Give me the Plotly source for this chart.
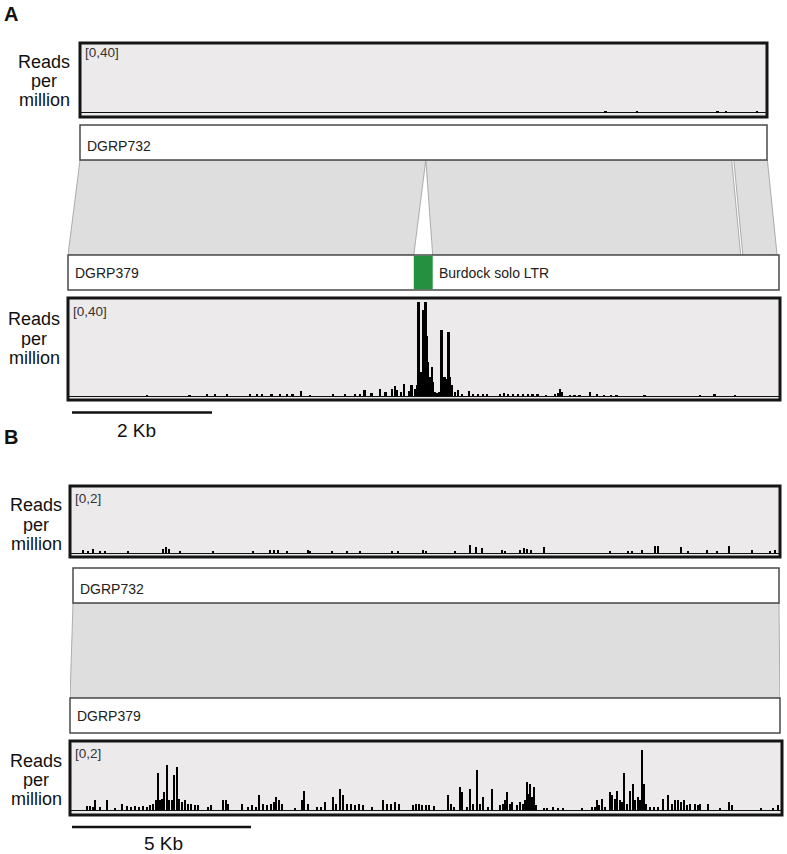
import plotly.graph_objects as go

W, H = 787, 854

# ---------------- DATA ----------------
# Panel A: coverage (reads per million) along DGRP732 (kb)
a732_pos = [7.51, 7.96, 9.11, 9.23, 9.67]
a732_rpm = [0.6, 1.0, 1.2, 1.2, 0.5]

# Panel A: coverage along DGRP379 (kb)
a379_pos = [1.13, 1.74, 1.99, 2.10, 2.27, 2.60, 2.70, 2.77, 2.91, 3.03, 3.13, 3.21, 3.33, 3.46,
            3.79, 3.96, 4.10, 4.17, 4.24, 4.34, 4.46, 4.54, 4.63, 4.67, 4.70, 4.76, 4.80, 4.87,
            4.91, 4.96, 4.99, 5.01, 5.03, 5.04, 5.07, 5.09, 5.11, 5.13, 5.14, 5.17, 5.20, 5.21,
            5.24, 5.27, 5.31, 5.34, 5.37, 5.39, 5.41, 5.44, 5.46, 5.49, 5.53, 5.57, 5.63, 5.73,
            5.79, 5.86, 5.93, 5.99, 6.17, 6.23, 6.29, 6.36, 6.43, 6.50, 6.57, 6.64, 6.71, 6.83,
            6.96, 7.00, 7.03, 7.06, 7.17, 7.24, 7.31, 7.46, 7.56, 7.66, 7.76, 7.84, 8.24, 9.03,
            9.24, 9.53]
a379_rpm = [0.4, 0.4, 0.5, 0.5, 0.5, 0.6, 0.8, 0.8, 0.7, 1.0, 0.9, 0.8, 2.0, 0.4,
            0.6, 0.8, 1.0, 0.8, 2.5, 1.2, 2.8, 1.5, 3.0, 4.0, 2.5, 1.5, 5.0, 2.0,
            4.5, 3.0, 4.5, 39.0, 8.0, 10.0, 36.0, 35.0, 39.0, 25.0, 14.0, 8.0, 12.0, 6.0,
            1.5, 1.2, 1.5, 27.5, 8.0, 8.0, 7.0, 26.5, 8.0, 4.5, 1.5, 2.5, 1.0, 2.0,
            0.8, 1.0, 0.8, 0.7, 0.8, 1.2, 1.0, 0.6, 0.7, 0.5, 1.0, 0.8, 0.6, 0.3,
            0.8, 1.2, 3.0, 1.5, 0.4, 0.4, 0.4, 1.8, 0.5, 0.4, 0.3, 0.3, 0.2, 0.2,
            0.8, 0.3]

# Panel B: coverage along DGRP732 (kb)
b732_pos = [0.36, 0.50, 0.64, 0.84, 0.98, 1.62, 2.60, 2.68, 2.77, 3.07, 3.99, 5.11, 5.59, 5.70,
            5.81, 6.06, 6.65, 6.70, 7.32, 7.74, 8.10, 9.00, 9.16, 9.86, 9.94, 10.75, 11.17,
            11.34, 11.51, 12.07, 12.15, 12.57, 12.68, 12.77, 12.88, 13.24, 15.08, 15.59, 15.70,
            15.98, 16.34, 16.42, 17.07, 17.26, 17.79, 18.07, 18.41, 19.05, 19.55, 19.69]
b732_rpm = [0.08, 0.06, 0.12, 0.06, 0.06, 0.06, 0.12, 0.20, 0.12, 0.06, 0.05, 0.05, 0.08, 0.10,
            0.08, 0.05, 0.08, 0.06, 0.05, 0.05, 0.05, 0.06, 0.05, 0.08, 0.06, 0.05, 0.25,
            0.18, 0.15, 0.08, 0.06, 0.10, 0.15, 0.12, 0.08, 0.18, 0.05, 0.05, 0.05,
            0.08, 0.22, 0.22, 0.20, 0.06, 0.08, 0.06, 0.22, 0.08, 0.06, 0.10]

# Panel B: coverage along DGRP379 (kb)
b379_pos = [0.47, 0.56, 0.64, 0.70, 0.84, 1.03, 1.26, 1.45, 1.59, 1.70, 1.82, 1.93, 2.04, 2.15,
            2.23, 2.32, 2.40, 2.46, 2.51, 2.57, 2.63, 2.71, 2.77, 2.85, 2.91, 2.99, 3.04, 3.13,
            3.21, 3.30, 3.38, 3.49, 3.58, 3.85, 3.94, 4.27, 4.36, 4.41, 4.80, 4.97, 5.08, 5.20,
            5.28, 5.39, 5.50, 5.61, 5.70, 5.75, 5.84, 5.92, 6.28, 6.48, 6.54, 6.65, 6.90, 7.01,
            7.12, 7.35, 7.43, 7.54, 7.63, 7.74, 7.85, 7.96, 8.07, 8.18, 8.44, 8.74, 8.85, 8.97,
            9.08, 9.19, 9.58, 9.66, 9.75, 9.83, 9.94, 10.03, 10.17, 10.56, 10.64, 10.73, 10.89,
            10.95, 11.09, 11.17, 11.26, 11.37, 11.45, 11.54, 11.68, 11.79, 12.01, 12.09, 12.15,
            12.21, 12.29, 12.35, 12.49, 12.57, 12.65, 12.71, 12.77, 12.82, 12.85, 12.91, 12.96,
            13.02, 13.24, 13.32, 13.49, 13.63, 13.77, 14.30, 14.58, 14.66, 14.72, 14.78, 14.86,
            14.94, 15.08, 15.14, 15.22, 15.28, 15.36, 15.42, 15.47, 15.56, 15.64, 15.73, 15.78,
            15.87, 15.92, 15.98, 16.03, 16.09, 16.20, 16.31, 16.42, 16.56, 16.70, 16.82, 16.90,
            16.98, 17.07, 17.15, 17.23, 17.32, 17.46, 17.54, 17.60, 17.82, 18.16, 18.41, 18.49,
            19.30, 19.64, 19.78]
b379_rpm = [0.12, 0.12, 0.10, 0.30, 0.08, 0.30, 0.05, 0.20, 0.12, 0.10, 0.12, 0.10, 0.12, 0.10,
            0.15, 0.20, 0.30, 1.15, 0.30, 0.35, 0.55, 1.40, 0.30, 0.30, 1.08, 1.32, 0.35, 0.25,
            0.30, 0.20, 0.20, 0.15, 0.15, 0.10, 0.15, 0.30, 0.30, 0.20, 0.20, 0.10, 0.15, 0.10,
            0.45, 0.20, 0.15, 0.20, 0.25, 0.40, 0.30, 0.20, 0.05, 0.30, 0.58, 0.20, 0.10, 0.10,
            0.25, 0.40, 0.20, 0.65, 0.45, 0.20, 0.20, 0.15, 0.20, 0.15, 0.10, 0.30, 0.20, 0.20,
            0.25, 0.20, 0.15, 0.20, 0.20, 0.15, 0.15, 0.15, 0.12, 0.45, 0.20, 0.10, 0.70,
            0.55, 0.10, 0.65, 0.20, 1.23, 0.20, 0.40, 0.10, 0.65, 0.15, 0.20, 0.30,
            0.55, 0.20, 0.25, 0.15, 0.25, 0.20, 0.30, 0.85, 0.50, 0.80, 0.40, 0.72,
            0.15, 0.05, 0.05, 0.10, 0.05, 0.05, 0.05, 0.10, 0.10, 0.30, 0.15, 0.33,
            0.10, 0.55, 0.45, 0.35, 0.60, 0.30, 0.25, 1.15, 0.20, 0.60, 0.80, 0.30,
            0.40, 0.30, 1.85, 0.80, 0.20, 0.10, 0.10, 0.10, 0.35, 0.45, 0.20, 0.30,
            0.30, 0.25, 0.30, 0.15, 0.20, 0.20, 0.15, 0.20, 0.20, 0.05, 0.25, 0.15,
            0.05, 0.05, 0.15]

# Alignment blocks (kb): DGRP732 interval <-> DGRP379 interval
a_blk732_start = [0.00, 4.94, 9.34]
a_blk732_end = [4.94, 9.31, 9.82]
a_blk379_start = [0.00, 5.21, 9.64]
a_blk379_end = [4.94, 9.61, 10.13]
a_ltr = [4.94, 5.21]          # Burdock solo LTR in DGRP379
b_blk732_start = [0.00]
b_blk732_end = [19.72]
b_blk379_start = [0.00]
b_blk379_end = [19.83]

scale_labels = ["2 Kb", "5 Kb"]
scale_kb = [2, 5]
range_labels = ["[0,40]", "[0,40]", "[0,2]", "[0,2]"]
range_max = [40, 40, 2, 2]
ylabel_words = ["Reads", "per", "million"]

# ---------------- LAYOUT HELPERS ----------------
SCALE_A = 70.0   # px per kb
SCALE_B = 35.8
FONT = "Liberation Sans, Arial, sans-serif"


def px(x):
    return x / W


def py(y):
    return 1 - y / H


TRACK_BG = "#ECEAEB"
SYN_FILL = "#DEDEDE"
SYN_LINE = "#9A9A9A"
GREEN = "#25903F"

fig = go.Figure()
layout = dict(width=W, height=H, margin=dict(l=0, r=0, t=0, b=0),
              paper_bgcolor="white", plot_bgcolor="rgba(0,0,0,0)", showlegend=False,
              bargap=0, barmode="overlay")
shapes = []
annotations = []


def add_axis(i, x0, x1, yt, yb, scale, yrange):
    sfx = "" if i == 1 else str(i)
    layout["xaxis" + sfx] = dict(domain=[px(x0), px(x1)], range=[0, (x1 - x0) / scale],
                                 visible=False, anchor="y" + sfx, fixedrange=True)
    layout["yaxis" + sfx] = dict(domain=[py(yb), py(yt)], range=yrange, anchor="x" + sfx,
                                 showgrid=False, showticklabels=False, ticks="",
                                 showline=False, zeroline=False, fixedrange=True)
    fig.add_trace(go.Scatter(x=[None], y=[None], xaxis="x" + sfx, yaxis="y" + sfx,
                             hoverinfo="skip", mode="markers"))
    return "x" + sfx, "y" + sfx


def cov_range(yt, yb, zero_px, max_px, vmax):
    k = (zero_px - max_px) / vmax
    return [-(yb - zero_px) / k, vmax + (max_px - yt) / k]


def rect_paper(x0, x1, yt, yb, **kw):
    d = dict(type="rect", xref="paper", yref="paper", x0=px(x0), x1=px(x1), y0=py(yb), y1=py(yt))
    d.update(kw)
    return d


def coverage(i, x0, x1, yt, yb, scale, zero_px, max_px, vmax, pos, val, width, label, label_cx,
             label_ys, rng_y):
    xa, ya = add_axis(i, x0, x1, yt, yb, scale, cov_range(yt, yb, zero_px, max_px, vmax))
    layout["yaxis" + ("" if i == 1 else str(i))].update(zeroline=True, zerolinecolor="#111111",
                                                         zerolinewidth=1)
    shapes.append(rect_paper(x0, x1, yt, yb, fillcolor=TRACK_BG, line=dict(width=0),
                             layer="below"))
    fig.add_trace(go.Bar(x=pos, y=val, width=width, marker=dict(color="#000000", line=dict(width=0)),
                         xaxis=xa, yaxis=ya, hoverinfo="skip"))
    shapes.append(rect_paper(x0, x1, yt, yb, fillcolor="rgba(0,0,0,0)",
                             line=dict(color="#151515", width=3), layer="above"))
    annotations.append(dict(text=label, x=px(x0 + 3), y=py(rng_y), xref="paper", yref="paper",
                            xanchor="left", yanchor="middle", showarrow=False,
                            font=dict(size=13.5, color="#333333", family=FONT)))
    for word, yy in zip(ylabel_words, label_ys):
        annotations.append(dict(text=word, x=px(label_cx), y=py(yy), xref="paper", yref="paper",
                                xanchor="center", yanchor="middle", showarrow=False,
                                borderpad=0, height=18, valign="middle",
                                font=dict(size=18, color="#111111", family=FONT)))
    return xa, ya


def genome_box(i, x0, x1, yt, yb, scale, name, name_y):
    xa, ya = add_axis(i, x0, x1, yt, yb, scale, [0, 1])
    shapes.append(rect_paper(x0, x1, yt, yb, fillcolor="white",
                             line=dict(color="#4a4a4a", width=1.5), layer="above"))
    annotations.append(dict(text=name, x=px(x0 + 5), y=py(name_y), xref="paper", yref="paper",
                            xanchor="left", yanchor="middle", showarrow=False,
                            font=dict(size=14, color="#222222", family=FONT)))
    return xa, ya


def synteny(i, x0, x1, yt, yb, scale, off732, s732, e732, s379, e379):
    xa, ya = add_axis(i, x0, x1, yt, yb, scale, [0, 1])
    for a, b, c, d in zip(s732, e732, s379, e379):
        fig.add_trace(go.Scatter(x=[c, d, b + off732, a + off732, c], y=[0, 0, 1, 1, 0],
                                 mode="lines", fill="toself", fillcolor=SYN_FILL,
                                 line=dict(color=SYN_LINE, width=0.8), xaxis=xa, yaxis=ya,
                                 hoverinfo="skip", cliponaxis=False))
    return xa, ya


# ---------------- PANEL A ----------------
coverage(1, 80, 767, 43, 117, SCALE_A, 112.5, 47, range_max[0], a732_pos, a732_rpm, 0.025,
         range_labels[0], 44, [62, 81, 100], 53)
genome_box(2, 80, 767, 125, 160, SCALE_A, "DGRP732", 145.5)
synteny(3, 68, 780, 160, 255, SCALE_A, (80 - 68) / SCALE_A,
        a_blk732_start, a_blk732_end, a_blk379_start, a_blk379_end)
xa4, ya4 = genome_box(4, 68, 779, 255, 290, SCALE_A, "DGRP379", 273)
shapes.append(dict(type="rect", xref=xa4, yref="paper", x0=a_ltr[0], x1=a_ltr[1],
                   y0=py(289.3), y1=py(255.7), fillcolor=GREEN, line=dict(width=0), layer="above"))
annotations.append(dict(text="Burdock solo LTR", x=a_ltr[1], y=py(273), xref=xa4, yref="paper",
                        xanchor="left", yanchor="middle", xshift=4, showarrow=False,
                        font=dict(size=14, color="#222222", family=FONT)))
xa5, ya5 = coverage(5, 68, 780, 298, 400, SCALE_A, 396, 300, range_max[1], a379_pos, a379_rpm,
                    0.025, range_labels[1], 34, [319, 338.5, 358], 311)

# scale bar A
shapes.append(dict(type="line", xref=xa5, yref="paper", x0=0.057, x1=0.057 + scale_kb[0],
                   y0=py(412.5), y1=py(412.5), line=dict(color="#111111", width=2.5)))
annotations.append(dict(text=scale_labels[0], x=0.057 + scale_kb[0] / 2 - 0.08, y=py(430),
                        xref=xa5, yref="paper", xanchor="center", yanchor="middle",
                        showarrow=False, font=dict(size=19, color="#111111", family=FONT)))

# ---------------- PANEL B ----------------
coverage(6, 70, 780, 486, 557, SCALE_B, 553, 490, range_max[2], b732_pos, b732_rpm, 0.06,
         range_labels[2], 36, [505, 524.5, 544], 498)
genome_box(7, 73, 779, 568, 603, SCALE_B, "DGRP732", 588.5)
synteny(8, 70, 780, 603, 698, SCALE_B, (73 - 70) / SCALE_B,
        b_blk732_start, b_blk732_end, b_blk379_start, b_blk379_end)
genome_box(9, 70, 780, 698, 733, SCALE_B, "DGRP379", 715.5)
xa10, ya10 = coverage(10, 70, 782, 741, 815, SCALE_B, 810, 745, range_max[3], b379_pos, b379_rpm,
                      0.06, range_labels[3], 36, [761, 780, 799], 753)

shapes.append(dict(type="line", xref=xa10, yref="paper", x0=0.056, x1=0.056 + scale_kb[1],
                   y0=py(827), y1=py(827), line=dict(color="#111111", width=2.5)))
annotations.append(dict(text=scale_labels[1], x=0.056 + scale_kb[1] / 2 + 0.05, y=py(843.5),
                        xref=xa10, yref="paper", xanchor="center", yanchor="middle",
                        showarrow=False, font=dict(size=19, color="#111111", family=FONT)))

# panel letters
for letter, yy in [("A", 14), ("B", 437.5)]:
    annotations.append(dict(text="<b>" + letter + "</b>", x=px(10.5), y=py(yy), xref="paper",
                            yref="paper", xanchor="center", yanchor="middle", showarrow=False,
                            font=dict(size=20, color="#111111", family=FONT)))

layout["shapes"] = shapes
layout["annotations"] = annotations
fig.update_layout(**layout)
fig.write_html("out.html", config={"displayModeBar": False},
               post_script="document.body.style.margin='0px';document.body.style.padding='0px';")
